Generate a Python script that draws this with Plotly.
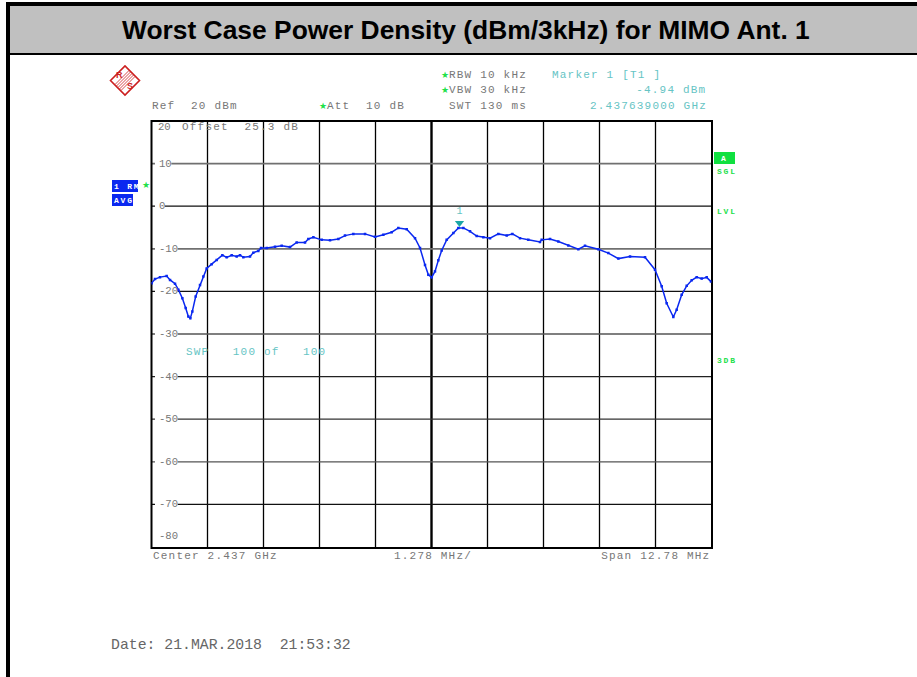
import plotly.graph_objects as go

W, H = 917, 677
# Trace: offset from centre frequency in MHz, level in dBm
freq_offset_mhz = [-6.386,-6.31,-6.196,-6.044,-5.967,-5.853,-5.777,-5.686,-5.61,-5.549,-5.503,-5.458,-5.382,-5.283,-5.207,-5.131,-5.017,-4.902,-4.773,-4.674,-4.56,-4.446,-4.37,-4.294,-4.142,-4.066,-3.952,-3.891,-3.761,-3.571,-3.419,-3.229,-3.077,-2.887,-2.811,-2.696,-2.506,-2.316,-2.126,-1.974,-1.784,-1.517,-1.289,-1.099,-0.909,-0.757,-0.566,-0.376,-0.262,-0.148,-0.072,0.004,0.08,0.156,0.232,0.346,0.499,0.613,0.727,0.879,1.031,1.183,1.335,1.525,1.716,1.845,2.02,2.21,2.476,2.514,2.705,2.895,3.123,3.351,3.503,3.808,4.036,4.264,4.53,4.873,5.101,5.253,5.367,5.519,5.595,5.709,5.824,5.938,6.052,6.166,6.28,6.379]
level_dbm = [-18.06,-17.1,-16.65,-16.4,-17.3,-18.2,-19.6,-21.6,-23.9,-25.9,-26.3,-24.7,-21.2,-18.5,-16.5,-14.6,-13.6,-12.6,-11.5,-12.0,-11.5,-11.8,-11.5,-12.0,-11.8,-10.9,-10.5,-9.8,-9.8,-9.5,-9.3,-9.6,-8.5,-8.5,-7.7,-7.3,-7.9,-8.0,-7.7,-6.9,-6.5,-6.5,-7.2,-6.7,-6.1,-5.1,-5.4,-7.5,-9.8,-13.8,-16.1,-16.7,-15.3,-12.7,-10.4,-7.9,-6.3,-5.1,-5.1,-5.9,-7.0,-7.3,-7.5,-6.5,-6.9,-6.5,-7.5,-7.9,-8.4,-7.9,-7.7,-8.3,-9.2,-10.1,-9.3,-10.1,-11.0,-12.3,-11.8,-12.0,-14.9,-18.8,-22.8,-26.0,-24.3,-20.8,-18.7,-17.4,-16.65,-17.0,-16.7,-17.7]

marker_offset = [0.639]
marker_level = [-4.94]
y_ticks = [10,0,-10,-20,-30,-40,-50,-60,-70]
y_labels = ["10","0","-10","-20","-30","-40","-50","-60","-70"]
grid_colors = ["#707070","#111111","#707070","#111111","#555555","#222222","#333333","#555555","#111111"]
div_mhz = 1.278
x_grid = [div_mhz * i for i in range(-4, 5)]

MONO = "Liberation Mono"
GREY, CYAN, GREEN, BLUE = "#777777", "#66c4c4", "#22e04a", "#0a28f0"
RED = "#cc1f1f"

def px(x): return x / W
def py(y): return 1 - y / H

fig = go.Figure()
fig.add_trace(go.Scatter(x=freq_offset_mhz, y=level_dbm, mode="lines+markers",
                         line=dict(color=BLUE, width=1.5),
                         marker=dict(color=BLUE, size=2.5, symbol="square"), hoverinfo="skip"))
fig.add_trace(go.Scatter(x=marker_offset, y=[v + 1.0 for v in marker_level], mode="markers+text",
                         marker=dict(symbol="triangle-down", size=8, color="#1aa6a6"),
                         text=["1"], textposition="top center",
                         textfont=dict(family=MONO, size=10, color=CYAN), hoverinfo="skip"))

shapes = []
def rect(x0, y0, x1, y1, fill):
    shapes.append(dict(type="rect", xref="paper", yref="paper", x0=px(x0), x1=px(x1), y0=py(y0), y1=py(y1),
                       fillcolor=fill, line=dict(width=0), layer="below"))
rect(6, 2, 917, 6, "black")
rect(6, 2, 10, 677, "black")
rect(10, 6, 917, 53, "#c0c0c0")
rect(10, 53, 917, 55, "black")
rect(714, 152, 735, 164, "#10e040")
rect(112, 180, 138, 192, BLUE)
rect(112, 194, 133, 206, BLUE)

for xv in x_grid:
    shapes.append(dict(type="line", xref="x", yref="paper", x0=xv, x1=xv, y0=py(547), y1=py(121),
                       line=dict(color="black", width=2.4 if abs(xv) < 1e-9 else 1.3), layer="below"))
for yv, col in zip(y_ticks, grid_colors):
    shapes.append(dict(type="line", xref="paper", yref="y", x0=px(151.5), x1=px(711.5), y0=yv, y1=yv,
                       line=dict(color=col, width=1.7 if col == "#707070" else 1.3), layer="below"))
# white gaps behind the level labels, kept under the trace
for yv, lab in zip(y_ticks, y_labels):
    shapes.append(dict(type="rect", xref="paper", yref="y", x0=px(155), x1=px(157 + 6.4 * len(lab) + 1.5),
                       y0=yv - 0.8, y1=yv + 0.8, fillcolor="white", line=dict(width=0), layer="below"))
shapes.append(dict(type="rect", xref="paper", yref="paper", x0=px(151.5), x1=px(712), y0=py(548), y1=py(121),
                   line=dict(color="black", width=2), layer="below"))
# R&S logo
cx, cy, r = 125, 80.5, 14.5
shapes.append(dict(type="path", xref="paper", yref="paper",
                   path=f"M {px(cx-r)} {py(cy)} L {px(cx)} {py(cy-r)} L {px(cx+r)} {py(cy)} L {px(cx)} {py(cy+r)} Z",
                   line=dict(color=RED, width=1.6), fillcolor="white"))
for k in (-3, -1.5, 0, 1.5, 3):
    shapes.append(dict(type="line", xref="paper", yref="paper",
                       x0=px(cx - 7 + k), y0=py(cy + 7 + k), x1=px(cx + 7 + k), y1=py(cy - 7 + k),
                       line=dict(color=RED, width=0.8)))

ann = []
def t(x, y, s, color=GREY, size=11, anchor="left", family=MONO, bold=False, bg=None):
    s2 = f"<b>{s}</b>" if bold else s
    ann.append(dict(xref="paper", yref="paper", x=px(x), y=py(y), text=s2, showarrow=False, xanchor=anchor,
                    yanchor="middle", font=dict(family=family, size=size, color=color), align=anchor,
                    bgcolor=bg, borderpad=0))

t(465.5, 30, "Worst Case Power Density (dBm/3kHz) for MIMO Ant. 1", "black", 26.4, "center", "Liberation Sans", True)
t(440, 76, "★", GREEN, 9); t(448, 75, "RBW 10 kHz")
t(440, 91, "★", GREEN, 9); t(448, 90, "VBW 30 kHz")
t(448, 106, "SWT 130 ms")
t(551, 75, "Marker 1 [T1 ]", CYAN)
t(708, 90, "-4.94 dBm", CYAN, anchor="right")
t(708, 106, "2.437639000 GHz", CYAN, anchor="right")
t(151, 106, "Ref  20 dBm")
t(318, 107, "★", GREEN, 9); t(326, 106, "Att  10 dB")
t(157, 127, "20", GREY, 10.6); t(181, 127, "Offset  25.3 dB")
t(185, 352, "SWP   100 of   100", CYAN)
t(152, 556, "Center 2.437 GHz")
t(393, 556, "1.278 MHz/")
t(711, 556, "Span 12.78 MHz", anchor="right")
t(110, 645, "Date: 21.MAR.2018  21:53:32", "#666666", 14.8)
t(113, 186, "1 RM", "white", 8, bold=True)
t(141, 186, "★", GREEN, 9)
t(113, 200, "AVG", "white", 8, bold=True)
t(724.5, 158, "A", "white", 8, "center", bold=True)
t(716, 171, "SGL", GREEN, 8, bold=True)
t(716, 211, "LVL", GREEN, 8, bold=True)
t(716, 360, "3DB", GREEN, 8, bold=True)
for v, lab in zip(y_ticks + [-77.5], y_labels + ["-80"]):
    ann.append(dict(xref="paper", yref="y", x=px(157), y=v, text=lab, showarrow=False,
                    xanchor="left", yanchor="middle",
                    font=dict(family=MONO, size=10.6, color=GREY)))
for sx, sy, s in ((119.5, 75, "R"), (130, 86, "S")):
    t(sx, sy, s, RED, 9, "center", "Liberation Sans", True)

fig.update_layout(
    width=W, height=H, margin=dict(l=0, r=0, t=0, b=0), showlegend=False,
    paper_bgcolor="white", plot_bgcolor="white",
    xaxis=dict(domain=[px(151.5), px(711.5)], range=[-div_mhz*5, div_mhz*5], visible=False),
    yaxis=dict(domain=[py(547), py(121)], range=[-80, 20], visible=False),
    shapes=shapes, annotations=ann)

post = """
document.body.style.margin='0';
document.documentElement.style.overflow='hidden';
var s=document.createElement('style');
s.textContent='text.annotation-text[style*="font-size: 11px"]{letter-spacing:1.2px}'+
 'text.annotation-text[style*="font-size: 8px"]{letter-spacing:1.8px}';
document.head.appendChild(s);
"""
fig.write_html("out.html", post_script=post, config={"displayModeBar": False})
